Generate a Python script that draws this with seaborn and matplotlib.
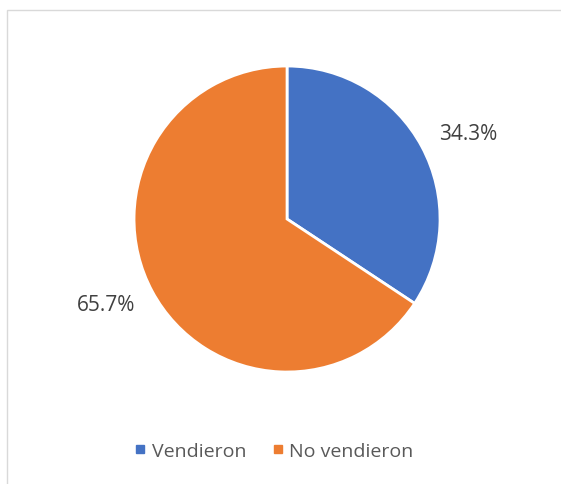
import numpy as np
import matplotlib.pyplot as plt
import seaborn as sns
from matplotlib.patches import Rectangle
from matplotlib.lines import Line2D

# Data
categories = ['Vendieron', 'No vendieron']
shares = [34.3, 65.7]
colors = ['#4472C4', '#ED7D31']

sns.set_style('white')
plt.rcParams['font.family'] = ['Open Sans', 'DejaVu Sans']

fig = plt.figure(figsize=(5.61, 4.85), dpi=100)
fig.patch.set_facecolor('white')

# light frame around the chart area
fig.add_artist(Rectangle((6.5 / 561, -0.1), 1.2, 1 - 11 / 485 + 0.1,
                         transform=fig.transFigure, fill=False,
                         edgecolor='#D9D9D9', linewidth=1.0))

ax = fig.add_axes([0.2389, 0.2309, 0.5455, 0.6309])
wedges, _ = ax.pie(
    shares, colors=colors, startangle=90, counterclock=False,
    wedgeprops=dict(edgecolor='white', linewidth=2))

# percentage labels outside, nudged a little clockwise like Excel does
for w, s in zip(wedges, shares):
    ang = np.deg2rad((w.theta1 + w.theta2) / 2 - 3)
    ax.text(1.31 * np.cos(ang), 1.31 * np.sin(ang), f'{s:.1f}%',
            ha='center', va='center', color='#404040', fontsize=15)

ax.set_xlim(-1, 1)
ax.set_ylim(-1, 1)
ax.set_aspect('equal')

handles = [Line2D([0], [0], marker='s', linestyle='', markersize=6,
                  markerfacecolor=c, markeredgecolor=c) for c in colors]
fig.legend(handles, categories, loc='center', bbox_to_anchor=(272 / 561, 1 - 452 / 485),
           ncol=2, frameon=False, fontsize=14, labelcolor='#595959',
           handletextpad=0.1, columnspacing=1.1, handlelength=1.0)

fig.savefig('out.png', dpi=100)
